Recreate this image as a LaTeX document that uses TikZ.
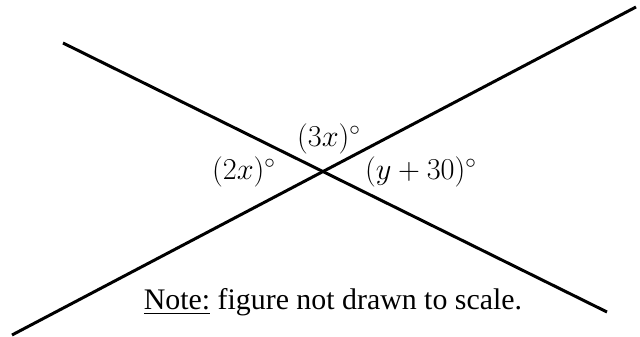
\documentclass[tikz,border=0pt]{standalone}
\usepackage{fontspec}
\setmainfont{Liberation Serif}
\tikzset{
  crossline/.style={black,line width=1.7pt},
  anglelabel/.style={inner sep=0pt,font=\fontsize{17}{20}\selectfont},
  notetext/.style={inner sep=0pt,anchor=base,font=\fontsize{17}{20}\selectfont}
}
\begin{document}
\begin{tikzpicture}[x=0.02cm,y=-0.02cm]
\useasboundingbox (0,0) rectangle (640,337);

% end points of the two lines
\coordinate (aStart) at (63,43);
\coordinate (aEnd) at (607,312);
\coordinate (bStart) at (12,335);
\coordinate (bEnd) at (636,7);

\draw[crossline] (aStart) -- (aEnd);
\draw[crossline] (bStart) -- (bEnd);

% angle labels
\node[anglelabel] (top) at (329,139) {$(3x)^{\circ}$};
\node[anglelabel] (left) at (244,172) {$(2x)^{\circ}$};
\node[anglelabel] (right) at (421,172) {$(y+30)^{\circ}$};

\node[notetext] (note) at (333,310) {\underline{Note:} figure not drawn to scale.};

\end{tikzpicture}
\end{document}
